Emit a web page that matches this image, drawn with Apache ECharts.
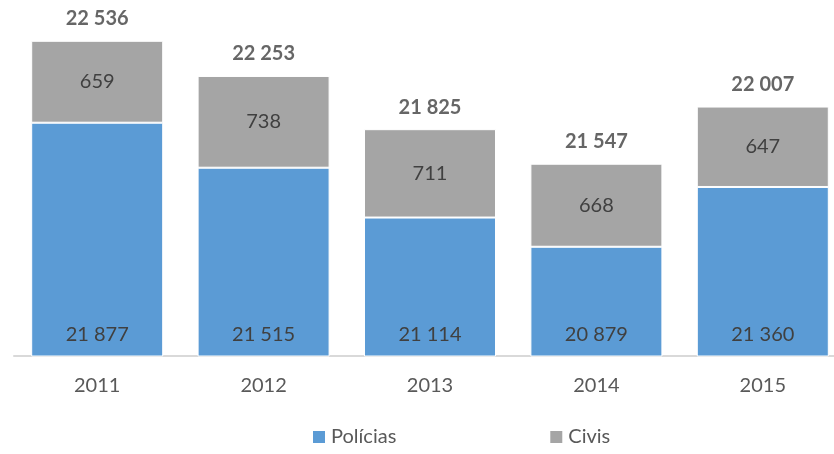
<!DOCTYPE html>
<html>
<head>
<meta charset="utf-8">
<script src="https://cdn.jsdelivr.net/npm/echarts@6/dist/echarts.min.js"></script>
<style>
html,body{margin:0;padding:0;background:#fff;overflow:hidden}
#chart{width:846px;height:454px}
</style>
</head>
<body>
<div id="chart"></div>
<script>
let anos = ["2011","2012","2013","2014","2015"]
let policias = [21877,21515,21114,20879,21360]
let civis = [659,738,711,668,647]
let totais = [22536,22253,21825,21547,22007]

function fmt(v){
    return String(v).replace(/\B(?=(\d{3})+(?!\d))/g," ")
}

let font = "Lato, 'Open Sans', sans-serif"
var myChart = echarts.init(document.getElementById("chart"))
var option = {
    animation:false,
    textStyle:{fontFamily:font},
    grid:{
        left:14,
        right:0,
        top:8,
        bottom:98
    },
    legend:{
        bottom:2,
        left:306,
        itemGap:152,
        itemWidth:14,
        itemHeight:14,
        icon:"rect",
        textStyle:{fontSize:20,color:"#595959",fontFamily:font},
        data:["Polícias","Civis"]
    },
    xAxis:{
        type:"category",
        data:anos,
        axisLine:{lineStyle:{color:"#d9d9d9",width:2}},
        axisTick:{show:false},
        axisLabel:{fontSize:20,color:"#595959",margin:20,fontFamily:font}
    },
    yAxis:{
        type:"value",
        min:20000,
        max:22800,
        show:false,
        splitLine:{show:false}
    },
    series:[
        {
            name:"Polícias",
            type:"bar",
            stack:"t",
            data:policias,
            barWidth:132,
            itemStyle:{color:"#5B9BD5",borderColor:"#fff",borderWidth:1},
            label:{
                show:true,
                position:"insideBottom",
                distance:12,
                fontSize:20,
                color:"#404040",
                fontFamily:font,
                formatter:p=>fmt(p.value)
            }
        },
        {
            name:"Civis",
            type:"bar",
            stack:"t",
            data:civis,
            barWidth:132,
            itemStyle:{color:"#A5A5A5",borderColor:"#fff",borderWidth:1},
            label:{
                show:true,
                position:"inside",
                fontSize:20,
                color:"#404040",
                fontFamily:font,
                formatter:p=>fmt(p.value)
            }
        },
        {
            name:"Total",
            type:"scatter",
            data:totais,
            symbolSize:0,
            silent:true,
            label:{
                show:true,
                position:"top",
                distance:12,
                fontSize:20,
                fontWeight:"bold",
                color:"#404040",
                fontFamily:font,
                formatter:p=>fmt(p.value)
            }
        }
    ]
}
myChart.setOption(option)
</script>
</body>
</html>
